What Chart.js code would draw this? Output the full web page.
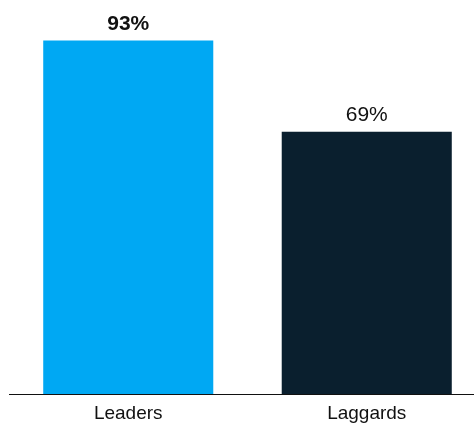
<!DOCTYPE html>
<html>
<head>
<meta charset="utf-8">
<script src="https://cdn.jsdelivr.net/npm/chart.js@4"></script>
<style>
	html, body { margin: 0; padding: 0; background: #fff; overflow: hidden; }
	#wrap { width: 486px; height: 425px; }
</style>
</head>
<body>
<div id="wrap"><canvas id="shareChart" width="486" height="425"></canvas></div>
<script>
const categories = ["Leaders", "Laggards"];
const shareValues = [93, 69];
const barColors = ["#00a8f3", "#0a1f2e"];
const valueLabels = ["93%", "69%"];
const boldLabel = [true, false];

// draws the percentage above each bar
const valueLabelPlugin = {
	id: "valueLabels",
	afterDatasetsDraw(chart) {
		const ctx = chart.ctx;
		const meta = chart.getDatasetMeta(0);
		ctx.save();
		ctx.textAlign = "center";
		ctx.textBaseline = "alphabetic";
		ctx.fillStyle = "#111";
		meta.data.forEach((bar, i) => {
			ctx.font = (boldLabel[i] ? "bold " : "") + "21px 'Liberation Sans', Arial, sans-serif";
			ctx.fillText(valueLabels[i], bar.x, bar.y - 11);
		});
		ctx.restore();
	},
};

const shareChart = new Chart(document.getElementById("shareChart"), {
	type: "bar",
	data: {
		labels: categories,
		datasets: [
			{
				data: shareValues,
				backgroundColor: barColors,
				borderWidth: 0,
				barPercentage: 1,
				categoryPercentage: 0.713,
			},
		],
	},
	options: {
		responsive: false,
		animation: false,
		layout: {
			padding: { top: 14, left: 9, right: 0, bottom: 0 },
		},
		plugins: {
			legend: { display: false },
			tooltip: { enabled: false },
		},
		scales: {
			x: {
				grid: { display: false, drawTicks: false },
				border: { display: true, color: "#111", width: 1 },
				ticks: {
					color: "#111",
					padding: 8,
					font: { family: "'Liberation Sans', Arial, sans-serif", size: 19 },
				},
				// keep the baseline where the reference has it
				afterFit(scale) {
					scale.height = 31;
				},
			},
			y: {
				display: false,
				min: 0,
				max: 100,
			},
		},
	},
	plugins: [valueLabelPlugin],
});
</script>
</body>
</html>
